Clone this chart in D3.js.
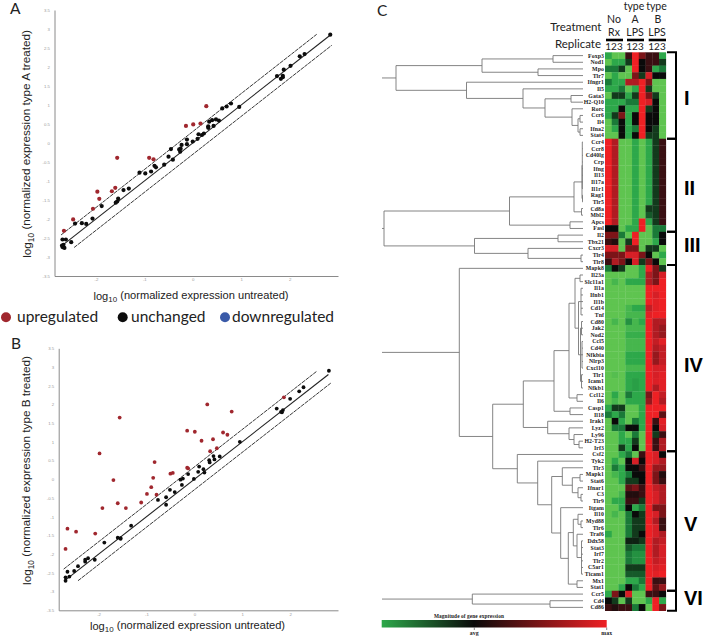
<!DOCTYPE html>
<html>
<head>
<meta charset="utf-8">
<script src="https://cdn.jsdelivr.net/npm/d3@7"></script>
<style>
  body { margin: 0; background: #fff; }
  svg { display: block; }
  .axis path { stroke: #8a8a8a; stroke-width: 1; }
  .axis text { fill: #999; font-family: "Liberation Sans", sans-serif; font-size: 4.3px; }
  .title { font-family: "Liberation Sans", sans-serif; fill: #222; }
  .cal { font-family: Lato, sans-serif; fill: #222; }
  .gene { font-family: "Liberation Serif", serif; font-size: 5.8px; font-weight: bold; letter-spacing: 0.1px; fill: #1a1a1a; }
  .roman { font-family: "Liberation Sans", sans-serif; font-size: 20px; font-weight: bold; fill: #000; }
</style>
</head>
<body>
<script>
// scatter values, [log10 untreated, log10 treated]
const upA = [[-2.66,-2.31],[-2.47,-2.01],[-2.06,-1.73],[-1.93,-1.47],[-1.97,-1.28],[-1.67,-1.27],[-1.60,-1.18],[-1.56,-0.39],[-0.90,-0.39],[-0.81,-0.43],[-0.14,0.45],[0.01,0.49],[0.16,0.51],[0.28,0.97]];
const sameA = [[2.84,2.85],[2.31,2.34],[2.21,2.28],[2.02,2.03],[1.88,1.93],[1.86,1.77],[1.86,1.73],[1.82,1.69],[1.74,1.76],[0.96,0.95],[0.79,1.04],[0.70,0.96],[0.61,0.91],[0.54,0.59],[0.48,0.62],[0.40,0.60],[0.34,0.56],[0.43,0.45],[0.32,0.44],[0.32,0.40],[0.23,0.25],[0.19,0.21],[0.12,0.23],[0.10,0.11],[0,0.04],[-0.12,0.09],[-0.12,-0.03],[-0.23,-0.05],[-0.25,-0.15],[-0.28,-0.17],[-0.26,-0.23],[-0.45,-0.16],[-0.50,-0.36],[-0.41,-0.44],[-0.59,-0.57],[-0.79,-0.60],[-0.76,-0.64],[-0.86,-0.75],[-0.98,-0.80],[-1.10,-0.78],[-1.32,-1.20],[-1.43,-1.24],[-1.54,-1.46],[-1.56,-1.54],[-1.59,-1.57],[-1.88,-1.66],[-2.07,-1.99],[-2.20,-2.13],[-2.29,-2.11],[-2.43,-2.12],[-2.62,-2.54],[-2.69,-2.54],[-2.51,-2.61],[-2.67,-2.68],[-2.69,-2.74],[-2.65,-2.76],[-2.70,-2.70]];
const upB = [[-2.69,-1.86],[-2.65,-1.32],[-2.47,-1.40],[-2.07,-1.45],[-1.98,0.69],[-1.92,-0.77],[-1.69,-0.02],[-1.60,-0.64],[-1.56,1.65],[-1.43,-0.77],[-1.11,-0.62],[-0.99,-0.39],[-0.90,-0.21],[-0.86,0.04],[-0.83,0.46],[-0.79,-0.41],[-0.50,0.15],[-0.45,0.17],[-0.15,0.31],[-0.13,0.29],[-0.15,1.30],[0.01,1.27],[0.15,1.03],[0.27,2.00],[0.33,0.75],[0.39,1.07],[0.47,0.83],[0.60,1.25],[0.69,1.19],[0.78,1.81],[1.87,2.19]];
const sameB = [[2.81,2.90],[2.28,2.46],[2.19,2.35],[2.0,2.15],[1.85,1.85],[1.83,1.79],[1.72,1.89],[1.81,1.80],[0.95,1.00],[0.53,0.61],[0.40,0.62],[0.42,0.53],[0.31,0.51],[0.32,0.45],[0.19,0.27],[0.21,0.18],[0.10,0.34],[0.08,0.20],[-0.01,0.01],[-0.13,0.14],[-0.26,-0.15],[-0.24,0.02],[-0.29,-0.01],[-0.41,-0.34],[-0.51,-0.28],[-0.59,-0.48],[-0.59,-0.68],[-0.76,-0.55],[-1.32,-1.24],[-1.54,-1.57],[-1.54,-1.59],[-1.60,-1.56],[-1.88,-1.69],[-2.08,-2.15],[-2.22,-2.11],[-2.28,-2.20],[-2.28,-2.15],[-2.43,-2.32],[-2.51,-2.45],[-2.65,-2.47],[-2.61,-2.60],[-2.69,-2.62],[-2.69,-2.71]];
const xTicks = [-2, -1, 0, 1, 2];
const yTicks = [-3.5, -3, -2.5, -2, -1.5, -1, -0.5, 0, 0.5, 1, 1.5, 2, 2.5, 3, 3.5];
// [from, to, offset] of the fold change guides
const guidesA = [[-2.7, 2.85, 0], [-2.72, 2.56, 0.3], [-2.45, 2.87, -0.3]];
const guidesB = [[-2.7, 2.8, 0], [-2.73, 2.55, 0.33], [-2.43, 2.85, -0.28]];
const legendNames = ['upregulated', 'unchanged', 'downregulated'];

// heatmap rows, 9 replicates each, -4 is brightest green, 5 brightest red
const genes = ['Foxp3','Nod1','Mpo','Tlr7','Ifngr1','Il5','Gata3','H2-Q10','Rorc','Ccr6','Il4','Ifna2','Stat4',
  'Ccr4','Ccr8','Cd40lg','Crp','Ifng','Il13','Il17a','Il1r1','Rag1','Tlr5','Cd8a','Mbl2','Apcs','Fasl',
  'Il2','Tbx21','Cxcr3','Tlr4','Tlr8',
  'Mapk8','Il23a','Slc11a1','Il1a','Ifnb1','Il1b','Cd14','Tnf','Cd80','Jak2','Nod2','Ccl5','Cd40','Nfkbia','Nlrp3','Cxcl10','Tlr1','Icam1','Nfkb1','Ccl12','Il6','Casp1','Il18','Irak1','Lyz2','Ly96','H2-T23','Irf3',
  'Csf2','Tyk2','Tlr3','Mapk1','Stat6','Ifnar1','C3','Tlr9','Itgam','Il10','Myd88','Tlr6','Traf6','Ddx58','Stat3','Irf7','Tlr2','C5ar1','Ticam1','Mx1','Stat1',
  'Ccr5','Cd4','Cd86'];
const heatValues = [
  [-3,-4,-4,1,5,2,1,1,-3],[-4,-3,-3,-1,5,0,1,1,-1],[-2,-2,-1,-4,5,0,1,-3,-2],[-4,-3,-4,-4,2,-1,4,0,0],
  [-2,-3,-3,3,3,5,2,-4,-4],[-3,-3,-2,-4,-3,5,-1,-4,-4],[-4,-1,-1,-3,-1,5,2,-1,-4],[-3,-3,-3,-2,-2,5,4,0,-4],
  [-3,-3,0,-3,-3,5,-1,0,-4],[-3,-1,2,-3,0,5,0,0,-4],[-4,-2,0,-3,0,5,0,0,-4],[-4,-3,0,-3,-2,5,0,-1,-4],[-4,-4,0,-3,0,5,-1,-1,-4],
  [5,3,-4,-4,-3,-4,-3,-1,1],[5,3,-4,-4,-3,-4,-3,-1,1],[5,3,-4,-4,-3,-4,-3,-1,1],[5,3,-4,-4,-3,-4,-3,-1,1],[5,3,-4,-4,-3,-4,-3,-1,1],
  [5,3,-4,-4,-3,-4,-3,-1,1],[5,3,-4,-4,-3,-4,-3,-1,1],[5,3,-4,-4,-3,-4,-3,-1,1],[5,3,-4,-4,-3,-4,-3,-1,1],[5,3,-4,-4,-3,-4,-3,-1,1],
  [5,3,-4,-4,-3,-4,-1,-1,1],[5,3,-4,-4,-3,-4,-1.5,-1,1],[5,3,-4,-4,-3,5,-3,-1,1],[0,0,-4,-3,-3,5,-4,-2,-2],
  [2,2,-2,-4,5,-4,-4,-2,0],[1,0.5,-4,-1,5,-4,-4,-3,0],[4,4,-4,2,2,-4,-1,-1,-4],[2,2,2,4,4,2,0,-4,-3],[1,3,2,0,4,-1,2,0,-4],
  [-2,0,-1,-4,-4,-3,5,2,-1],[-4,-4,-4,-4,-4,-3,3,2,4],[-4,-3.5,-4,-3,-3,-3,3,2,5],[-4,-4,-4,-4,-4,-4,5,5,5],[-4,-4,-4,-4,-4,-4,5,4,5],
  [-4,-4,-4,-4,-4,-4,5,4.5,5],[-4,-4,-4,-3.5,-3,-3,3.5,4.5,5],[-4,-4,-4,-3.5,-3.5,-3.5,4.5,5,5],[-4,-3.5,-4,-2.5,-3.5,-3,5,3,3],
  [-4,-4,-4,-3.5,-3.5,-3.5,5,3,2.5],[-4,-4,-4,-3.2,-3.2,-3.2,5,3,2.5],[-4,-4,-4,-3.5,-3.5,-3.5,5,3.5,4.5],[-4,-4,-4,-3.5,-3.5,-3.5,5,3,3.5],
  [-4,-4,-4,-3,-3,-3,5,2.5,3.5],[-4,-4,-4,-3,-3,-3,5,2.5,3.5],[-4,-4,-4,-3.5,-3.5,-3.5,5,4,4],[-4,-3.8,-4,-3,-3,-3,5,4,4.5],
  [-4,-4,-4,-3,-2.8,-3,5,4.2,4.5],[-4,-4,-4,-3,-2.8,-3,5,3,4.5],[-4,-3,-4,-2,-3,-3,2,5,3.5],[-4,-3.5,-4,-3,-3,-3,2.5,5,3],
  [-3,-1,-1,-4,-4,-3,5,5,5],[-2,-3,-2,-4,-4,-3,5,5,1.5],[-4,0,-3,-4,-2,-3,5,1,4.5],[-4,-2,-2,0,0,-3,5,0,4],[-4,-4,-3,-4,-2,-4,5,-1,1],
  [-4,-4,-3,-3,-1,-4,5,1,3],[-4,-4,-1,-3,0,-4,5,1,3],
  [-4,-4,-3,-2,-4,1,5,4,0],[-4,-3,-4,0,4,0,5,4,3],[-4,-2,-3,0,0,1,5,2.5,2.5],[-4,-3.5,-3,-2,0,0,5,2,0.5],[-4,-4,-3,-1,-1,0,5,2,1],
  [-4,-4,-4,1.5,2,1,5,3.5,3],[-4,-4,-3.5,0.5,0.5,1,5,4,3],[-4,-3,-3,1,1,-1,5,4,3],[-4,-4,-3,0,-3,-2,5,2,2],[-4,-3.5,-4,-2,0,-1,5,4,2],
  [-4,-4,-4,-2,-1,-1,5,3,1],[-4,-4,-4,-2,-1,-1,5,4,1],[-3,-4,-4,-2,-1,0,5,4,3],[-4,-4,-4,-0.5,-0.5,-1,5,3,3.5],[-4,-4,-4,-1.5,-2,-2,5,3,4],
  [-4,-4,-4,-2,-2.5,-2.5,5,3,4],[-4,-4,-4,-2,-2.5,-2.5,5,3.5,4],[-4,-4,-4,-1,-1,-1,5,4,4.5],[-4,-4,-4,-1.5,-1.5,-1.5,5,4.5,5],
  [-4,-4,-4,-3,-3,-2,5,1,1],[-4,-4,-3,0,-2,-3,5,1.5,2.5],
  [-3,2,0,4,-4,-4,1,1,0],[0,-1,-4,-1,-4,-4,-3,5,-3],[1,0.5,1,1,-2,0,-4,5,2]
];
const colorLevels = [-4, -3, -2, -1, 0, 1, 2, 3, 4, 5];
const colorRange = ['#5fc450', '#2da84a', '#1a7a38', '#123a1c', '#0a0a0a', '#3a0f12', '#7c1418', '#b01b22', '#d61f26', '#ee2024'];

// dendrograms: [height, child, child...], a string is a gene at height 0
const trees = [
  [187, [101, [30,'Foxp3','Nod1'], [45,'Mpo','Tlr7']],
        [116.5, 'Ifngr1', [60, 'Il5', [38, [12,'Gata3','H2-Q10'], [11, 'Rorc', [5, [3,'Ccr6','Il4'], [3,'Ifna2','Stat4']]]]]]],
  [199, [73.5, [9, [1, [0.7,'Ccr4','Ccr8','Cd40lg','Crp','Ifng','Il13','Il17a','Il1r1'], [0.5,'Rag1','Tlr5']], [1.5,'Cd8a','Mbl2']], [13,'Apcs','Fasl']],
        [108.5, [25,'Il2','Tbx21'], [55,'Cxcr3',[2,'Tlr4','Tlr8']]]],
  [123.7, 'Mapk8', [90.3,
    [59.7, [29, [14, [8, [3,'Il23a','Slc11a1'], [4.5, [2,'Il1a','Ifnb1','Il1b','Cd14','Tnf'], [2.5, [1.5,'Cd80','Jak2','Nod2'], [1,'Ccl5','Cd40','Nfkbia','Nlrp3','Cxcl10'], [1.5,'Tlr1','Icam1','Nfkb1']]]], [6,'Ccl12','Il6']], [13,'Casp1','Il18']],
           [35.3, 'Irak1', [14, 'Lyz2', [9, 'Ly96', [4,'H2-T23','Irf3']]]]],
    [65.7, 'Csf2', [45.3, 'Tyk2', [31.3,
      [20.7, 'Tlr3', [10.7, [3,'Mapk1','Stat6'], [5,'Ifnar1',[2,'C3','Tlr9']]]],
      [22.3, 'Itgam', [14.7, [9.7, [5,'Il10',[2,'Myd88','Tlr6']], [6,'Traf6',[1.5,'Ddx58','Stat3','Irf7','Tlr2','C5ar1','Ticam1']]], [6,'Mx1','Stat1']]]]]]]],
  [110.7, 'Ccr5', [33,'Cd4','Cd86']]
];
const treeTop = 201;

// clusters: name, first and last gene of the bracket
const clusters = [['I','Foxp3','Stat4'],['II','Ccr4','Fasl'],['III','Il2','Tlr8'],['IV','Mapk8','Irf3'],['V','Csf2','Stat1'],['VI','Ccr5','Cd86']];
const clusterBaselines = [105, 195, 252, 372, 531, 605];

const svg = d3.select('body').append('svg').attr('width', 706).attr('height', 637);

function log10Title(g, text) {
  g.append('tspan').text('log');
  g.append('tspan').text('10').attr('font-size', '0.72em').attr('dy', '0.3em');
  g.append('tspan').text(' ' + text).attr('dy', '-0.3em');
}

function drawScatter(panel) {
  var x = d3.scaleLinear().domain(panel.xDomain).range(panel.xRange);
  var y = d3.scaleLinear().domain([-3.5, 3.5]).range(panel.yRange);
  var r = panel.r;

  svg.append('g').attr('class', 'axis')
    .attr('transform', 'translate(0,' + panel.yRange[0] + ')')
    .call(d3.axisBottom(x).tickValues(xTicks).tickSize(0).tickPadding(2.4).tickFormat(String));
  svg.append('g').attr('class', 'axis')
    .attr('transform', 'translate(' + panel.xRange[0] + ',0)')
    .call(d3.axisLeft(y).tickValues(yTicks).tickSize(0).tickPadding(4.5).tickFormat(String));

  svg.append('g').selectAll('line').data(panel.guides).enter().append('line')
    .attr('x1', function(d) { return x(d[0]); })
    .attr('x2', function(d) { return x(d[1]); })
    .attr('y1', function(d) { return y(d[0] + d[2]); })
    .attr('y2', function(d) { return y(d[1] + d[2]); })
    .attr('stroke', '#222')
    .attr('stroke-width', function(d) { return d[2] === 0 ? 1.1 : 0.9; })
    .attr('stroke-dasharray', function(d) { return d[2] === 0 ? null : '4,0.8'; });

  svg.append('g').selectAll('circle').data(panel.up).enter().append('circle')
    .attr('cx', function(d) { return x(d[0]); })
    .attr('cy', function(d) { return y(d[1]); })
    .attr('r', r)
    .attr('fill', '#a0272e');
  svg.append('g').selectAll('circle').data(panel.same).enter().append('circle')
    .attr('cx', function(d) { return x(d[0]); })
    .attr('cy', function(d) { return y(d[1]); })
    .attr('r', r)
    .attr('fill', '#0c0c0c');

  var xt = svg.append('text').attr('class', 'title').attr('font-size', 11.1)
    .attr('text-anchor', 'middle').attr('x', panel.xTitle[0]).attr('y', panel.xTitle[1]);
  log10Title(xt, '(normalized expression untreated)');
  var yt = svg.append('text').attr('class', 'title').attr('font-size', 11.7)
    .attr('text-anchor', 'middle')
    .attr('transform', 'translate(' + panel.yTitle[0] + ',' + panel.yTitle[1] + ') rotate(-90)');
  log10Title(yt, panel.yLabel);
}

drawScatter({ up: upA, same: sameA, guides: guidesA, r: 2.1,
  xDomain: [-2.855, 3.0], xRange: [54.5, 338], yRange: [276, 10],
  xTitle: [191, 300], yTitle: [31, 144], yLabel: '(normalized expression type A treated)' });
drawScatter({ up: upB, same: sameB, guides: guidesB, r: 1.9,
  xDomain: [-2.833, 3.0], xRange: [58.7, 338], yRange: [610.3, 348.3],
  xTitle: [187.5, 630], yTitle: [31, 470.5], yLabel: '(normalized expression type B treated)' });

// legend
var legendDots = { upregulated: [6, '#a0272e', 17], unchanged: [122.7, '#0c0c0c', 131], downregulated: [225, '#3a5aa8', 232] };
legendNames.forEach(function(name) {
  var d = legendDots[name];
  svg.append('circle').attr('cx', d[0]).attr('cy', 317.3).attr('r', 5).attr('fill', d[1]);
  svg.append('text').attr('class', 'cal').attr('font-size', 15.5).attr('x', d[2]).attr('y', 321.5).text(name);
});

// panel letters
[['A', 10, 14], ['B', 11, 349], ['C', 377, 16]].forEach(function(d) {
  svg.append('text').attr('class', 'cal').attr('font-size', 15.5).attr('x', d[1]).attr('y', d[2]).text(d[0]);
});

// heatmap
var rowY = d3.scaleBand().domain(genes).range([52.3, 610.7]);
var colX = d3.scaleBand().domain(d3.range(9)).range([605, 665.8]);
var heatColor = d3.scaleLinear().domain(colorLevels).range(colorRange);

var rows = svg.append('g').selectAll('g').data(heatValues).enter().append('g')
  .attr('transform', function(d, i) { return 'translate(0,' + rowY(genes[i]) + ')'; });
rows.selectAll('rect').data(function(d) { return d; }).enter().append('rect')
  .attr('x', function(d, i) { return colX(i); })
  .attr('width', colX.bandwidth() + 0.3)
  .attr('height', rowY.bandwidth() + 0.3)
  .attr('fill', function(d) { return heatColor(d); });

svg.append('g').selectAll('text').data(genes).enter().append('text')
  .attr('class', 'gene')
  .attr('text-anchor', 'end')
  .attr('x', 604)
  .attr('y', function(d) { return rowY(d) + rowY.bandwidth() / 2 + 2; })
  .text(function(d) { return d; });

// dendrograms
var treeX = d3.scaleLinear().domain([0, treeTop]).range([583, 382]);
var treeG = svg.append('g').attr('fill', 'none').attr('stroke', '#777').attr('stroke-width', 0.9);

function drawNode(node) {
  if (typeof node === 'string') {
    return { x: treeX(0), y: rowY(node) + rowY.bandwidth() / 2 };
  }
  var px = treeX(node[0]);
  var kids = node.slice(1).map(drawNode);
  kids.forEach(function(k) {
    treeG.append('line').attr('x1', px).attr('x2', k.x).attr('y1', k.y).attr('y2', k.y);
  });
  var ys = kids.map(function(k) { return k.y; });
  treeG.append('line').attr('x1', px).attr('x2', px).attr('y1', d3.min(ys)).attr('y2', d3.max(ys));
  return { x: px, y: (d3.min(ys) + d3.max(ys)) / 2 };
}
trees.forEach(function(t) {
  var root = drawNode(t);
  treeG.append('line').attr('x1', treeX(treeTop)).attr('x2', root.x).attr('y1', root.y).attr('y2', root.y);
});

// cluster brackets and their numerals
var bracket = svg.append('g').attr('fill', 'none').attr('stroke', '#000').attr('stroke-width', 2);
clusters.forEach(function(c, i) {
  var top = rowY(c[1]);
  var bottom = rowY(c[2]) + rowY.bandwidth();
  bracket.append('path').attr('d', d3.line()([[667, top], [676, top], [676, bottom], [667, bottom]]));
  svg.append('text').attr('class', 'roman').attr('x', 684).attr('y', clusterBaselines[i]).text(c[0]);
});

// column headers
var headers = [['type', 634, 10], ['type', 656.5, 10], ['No', 614, 23], ['A', 635, 23], ['B', 658, 23],
  ['Rx', 614, 36], ['LPS', 635, 36], ['LPS', 657, 36]];
svg.append('g').selectAll('text').data(headers).enter().append('text')
  .attr('class', 'cal').attr('font-size', 10.5).attr('text-anchor', 'middle')
  .attr('x', function(d) { return d[1]; })
  .attr('y', function(d) { return d[2]; })
  .text(function(d) { return d[0]; });
[614, 635, 657].forEach(function(cx) {
  svg.append('text').attr('class', 'cal').attr('font-size', 10).attr('text-anchor', 'middle').attr('x', cx).attr('y', 50).text('123');
});
svg.append('text').attr('class', 'cal').attr('font-size', 11.5).attr('text-anchor', 'end').attr('x', 601.5).attr('y', 31).text('Treatment');
svg.append('text').attr('class', 'cal').attr('font-size', 11.5).attr('text-anchor', 'end').attr('x', 601).attr('y', 47.5).text('Replicate');
[[606, 623], [627, 644], [648.7, 666]].forEach(function(d) {
  svg.append('line').attr('x1', d[0]).attr('x2', d[1]).attr('y1', 40).attr('y2', 40).attr('stroke', '#000').attr('stroke-width', 2.6);
});

// colour key
var grad = svg.append('defs').append('linearGradient').attr('id', 'key');
var keyX = d3.scaleLinear().domain([-1, 0, 1]).range([381.7, 474.3, 606.7]);
[[0, '#2da84a'], [0.41, '#0a0a0a'], [1, '#ee2024']].forEach(function(s) {
  grad.append('stop').attr('offset', s[0]).attr('stop-color', s[1]);
});
svg.append('rect').attr('x', keyX(-1)).attr('y', 620).attr('width', keyX(1) - keyX(-1)).attr('height', 7.5).attr('fill', 'url(#key)');
svg.append('text').attr('class', 'gene').style('font-size', '5.3px').attr('x', 434).attr('y', 618).text('Magnitude of gene expression');
[['avg', 0], ['max', 1]].forEach(function(d) {
  var tx = keyX(d[1]);
  svg.append('line').attr('x1', tx).attr('x2', tx).attr('y1', 627.5).attr('y2', 630).attr('stroke', '#333').attr('stroke-width', 0.6);
  svg.append('text').attr('class', 'gene').attr('text-anchor', 'middle').attr('x', tx).attr('y', 634.5).text(d[0]);
});
</script>
</body>
</html>
